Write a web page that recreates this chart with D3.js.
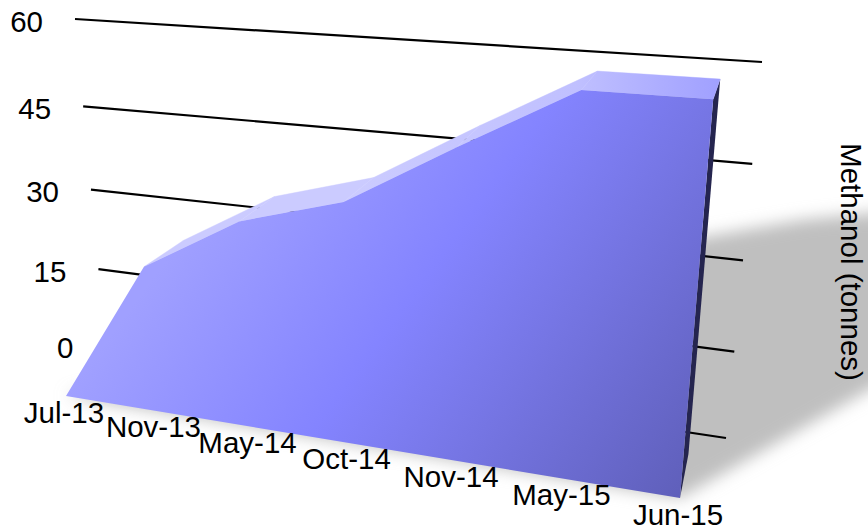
<!DOCTYPE html>
<html><head><meta charset="utf-8">
<script src="https://cdn.jsdelivr.net/npm/d3@7/dist/d3.min.js"></script>
<style>html,body{margin:0;padding:0;background:#fff}svg{display:block}text{font-family:"Liberation Sans",Arial,sans-serif;font-size:29.5px;fill:#000}</style>
</head><body><div id="chart"></div>
<script>
const categories = ["Jul-13","Nov-13","May-14","Oct-14","Nov-14","May-15","Jun-15"];
const methanol = [0, 23.8, 32.6, 37.1, 46.2, 54.9, 54.9];
const yTicks = [0, 15, 30, 45, 60];
const yTitle = "Methanol (tonnes)";

const W = 868, H = 531;
const x = d3.scalePoint().domain(categories).range([0, 1]);
const y = d3.scaleLinear().domain([0, 60]).range([0, 1]);

// Perspective camera: unit square -> screen quad
function squareToQuad(q) {
  const [[x0,y0],[x1,y1],[x2,y2],[x3,y3]] = q;
  const dx1=x1-x2, dx2=x3-x2, sx=x0-x1+x2-x3, dy1=y1-y2, dy2=y3-y2, sy=y0-y1+y2-y3;
  const den=dx1*dy2-dx2*dy1;
  const g=(sx*dy2-dx2*sy)/den, h=(dx1*sy-sx*dy1)/den;
  return {a:x1-x0+g*x1,b:x3-x0+h*x3,c:x0,d:y1-y0+g*y1,e:y3-y0+h*y3,f:y0,g,h};
}
const front = squareToQuad([[66,396],[680,498],[716.7,57],[25.3,15.6]]);
const wall  = squareToQuad([[105.5,345],[726,438],[762,62],[75,19]]);
const depthVP = [810,-178], thickness = 0.0593;
function project(m,u,v,s=0){
  const w=m.g*u+m.h*v+1+s;
  return [(m.a*u+m.b*v+m.c+s*depthVP[0])/w,(m.d*u+m.e*v+m.f+s*depthVP[1])/w];
}
const path = pts => "M"+pts.map(p=>p[0].toFixed(2)+","+p[1].toFixed(2)).join("L")+"Z";

const svg = d3.select("#chart").append("svg").attr("width",W).attr("height",H);
const defs = svg.append("defs");
const fg = defs.append("linearGradient").attr("id","faceGrad").attr("gradientUnits","userSpaceOnUse")
  .attr("x1",66).attr("y1",396).attr("x2",472+66).attr("y2",347+396);
[[0,"#a0a0ff"],[0.375,"#8484ff"],[1,"#5c5cb4"]].forEach(s=>fg.append("stop").attr("offset",s[0]).attr("stop-color",s[1]));
const rg = defs.append("linearGradient").attr("id","roofGrad").attr("gradientUnits","userSpaceOnUse")
  .attr("x1",360).attr("y1",0).attr("x2",720).attr("y2",0);
[[0,"#cbcbff"],[0.6,"#c0c0ff"],[1,"#a0a0ff"]].forEach(s=>rg.append("stop").attr("offset",s[0]).attr("stop-color",s[1]));
defs.append("filter").attr("id","soft").attr("filterUnits","userSpaceOnUse")
  .attr("x",0).attr("y",0).attr("width",W+600).attr("height",H)
  .append("feGaussianBlur").attr("stdDeviation",8);

// Shadow cast on the ground from each value
const lightU = 0.0254, lightS = 0.01909;
const cast = categories.map((c,i)=>project(front,x(c)+lightU*methanol[i],0,lightS*methanol[i]));
svg.append("path").attr("d",path([project(front,1,0,0),...cast.slice().reverse()]))
  .attr("fill","#bfbfbf").attr("filter","url(#soft)");

// Gridlines on back wall
svg.append("g").selectAll("line").data(yTicks).join("line")
  .each(function(t){
    const a=project(wall,0,y(t)), b=project(wall,1,y(t));
    d3.select(this).attr("x1",a[0]).attr("y1",a[1]).attr("x2",b[0]).attr("y2",b[1]);
  }).attr("stroke","#000").attr("stroke-width",2.2);
svg.append("g").selectAll("text").data(yTicks).join("text")
  .attr("text-anchor","end")
  .attr("x",t=>project(wall,0,y(t))[0]-32)
  .attr("y",t=>project(wall,0,y(t))[1]+12.5)
  .text(t=>t);

const fp = categories.map((c,i)=>project(front,x(c),y(methanol[i]),0));
const bp = categories.map((c,i)=>project(front,x(c),y(methanol[i]),thickness));
const base0 = project(front,0,0), base1 = project(front,1,0), back1 = project(front,1,0,thickness);

// side
svg.append("path").attr("d",path([base1,back1,bp[6],fp[6]])).attr("fill","#25254f");
// roof
svg.append("g").selectAll("path").data(d3.range(1,6)).join("path")
  .attr("d",i=>path([fp[i],fp[i+1],bp[i+1],bp[i]]))
  .attr("fill","url(#roofGrad)").attr("stroke","url(#roofGrad)").attr("stroke-width",0.4);
// face
svg.append("path").attr("d",path([base0,...fp.slice(1),base1])).attr("fill","url(#faceGrad)");

// category labels
svg.append("g").selectAll("text").data(categories).join("text")
  .attr("text-anchor","middle")
  .attr("x",c=>project(front,x(c),0)[0]-2)
  .attr("y",c=>project(front,x(c),0)[1]+26.5)
  .text(c=>c);

svg.append("text").attr("text-anchor","middle")
  .attr("transform","translate(841,262) rotate(90)").text(yTitle);
</script></body></html>
